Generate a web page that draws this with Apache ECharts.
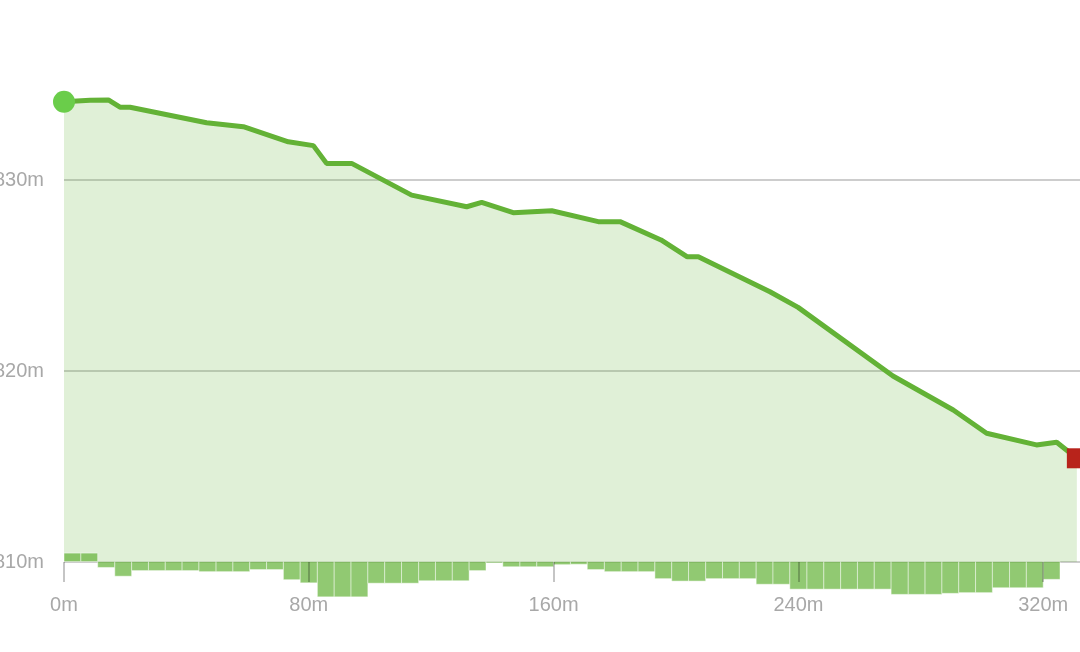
<!DOCTYPE html>
<html>
<head>
<meta charset="utf-8">
<script src="https://cdn.jsdelivr.net/npm/echarts@6/dist/echarts.min.js"></script>
<style>
html,body{margin:0;padding:0;background:#fff;}
#chart{width:1080px;height:652px;}
</style>
</head>
<body>
<div id="chart"></div>
<script>
// Elevation profile vertices
var distances = [0, 8.5, 14.5, 18.3, 21.6, 46.6, 58.6, 73.3, 81.5, 85.8, 94.0, 113.6, 131.6, 136.5, 146.8, 159.4, 174.6, 181.7, 195.1, 203.7, 207.3, 230.7, 239.9, 270.9, 290.6, 301.5, 317.8, 324.4, 331.0];
var elevations = [834.10, 834.18, 834.19, 833.81, 833.81, 833.00, 832.79, 832.00, 831.80, 830.87, 830.87, 829.21, 828.60, 828.83, 828.29, 828.39, 827.82, 827.82, 826.86, 825.98, 825.98, 824.15, 823.33, 819.74, 817.96, 816.74, 816.13, 816.27, 815.43];

// Grade segments (boundaries in m, grade per segment)
var gradeBounds = [0, 5.5, 11.0, 16.6, 22.1, 27.6, 33.1, 38.6, 44.1, 49.7, 55.2, 60.7, 66.2, 71.7, 77.2, 82.8, 88.3, 93.8, 99.3, 104.8, 110.3, 115.9, 121.4, 126.9, 132.4, 137.9, 143.4, 149.0, 154.5, 160.0, 165.5, 171.0, 176.6, 182.1, 187.6, 193.1, 198.6, 204.1, 209.7, 215.2, 220.7, 226.2, 231.7, 237.2, 242.8, 248.3, 253.8, 259.3, 264.8, 270.3, 275.9, 281.4, 286.9, 292.4, 297.9, 303.4, 309.0, 314.5, 320.0, 325.5];
var grades = [2.4, 2.4, -1.7, -4.2, -2.6, -2.6, -2.6, -2.6, -2.9, -2.9, -2.9, -2.3, -2.3, -5.2, -6.1, -10.1, -10.1, -10.1, -6.2, -6.2, -6.2, -5.5, -5.5, -5.5, -2.6, -0.4, -1.5, -1.5, -1.5, -0.9, -0.8, -2.3, -2.9, -2.9, -2.9, -4.9, -5.6, -5.6, -4.9, -4.9, -4.9, -6.5, -6.5, -7.9, -7.9, -7.9, -7.9, -7.9, -7.9, -9.4, -9.4, -9.4, -9.1, -8.9, -8.9, -7.5, -7.5, -7.5, -5.1];

var xTicks = [0, 80, 160, 240, 320];
var yTicks = [810, 820, 830];

var lineColor = '#63b236';
var labelStyle = {color: '#a8a8a8', fontSize: 20, fontFamily: 'Liberation Sans, Arial, Helvetica, sans-serif'};

var profileData = distances.map(function (d, i) {
  var item = {value: [d, elevations[i]], symbol: 'none'};
  if (i === 0) {
    item.symbol = 'circle'; item.symbolSize = 22;
    item.itemStyle = {color: '#6acd4a'};
  } else if (i === distances.length - 1) {
    item.symbol = 'rect'; item.symbolSize = 20;
    item.itemStyle = {color: '#b8231b'};
  }
  return item;
});

var gradeData = grades.map(function (g, i) {
  return [gradeBounds[i], gradeBounds[i + 1], g];
});

var chart = echarts.init(document.getElementById('chart'), null, {renderer: 'canvas'});
chart.setOption({
  animation: false,
  grid: [
    {left: 64, top: -11, width: 1224, height: 573, containLabel: false, outerBoundsMode: 'none'},
    {left: 64, top: 519.5, width: 1224, height: 84, containLabel: false, outerBoundsMode: 'none'}
  ],
  xAxis: [
    {
      gridIndex: 0, type: 'value', min: 0, max: 400, interval: 80, z: 10,
      axisLine: {show: false},
      axisTick: {show: true, length: 20, lineStyle: {color: 'rgba(0,0,0,0.3)', width: 1.5}},
      splitLine: {show: false},
      axisLabel: Object.assign({margin: 33, formatter: function (v) { return v + 'm'; }}, labelStyle)
    },
    {
      gridIndex: 1, type: 'value', min: 0, max: 400, show: false
    }
  ],
  yAxis: [
    {
      gridIndex: 0, type: 'value', min: 810, max: 840, interval: 10,
      axisLine: {show: false}, axisTick: {show: false},
      splitLine: {show: true, lineStyle: {color: '#bdbdbd', width: 1.5}},
      axisLabel: Object.assign({margin: 20, formatter: function (v) { return v + 'm'; }}, labelStyle)
    },
    {
      gridIndex: 1, type: 'value', min: -12, max: 12, show: false
    }
  ],
  series: [
    {
      type: 'line', xAxisIndex: 0, yAxisIndex: 0, z: 2,
      data: profileData,
      showSymbol: true,
      lineStyle: {color: lineColor, width: 5},
      itemStyle: {color: lineColor},
      areaStyle: {color: lineColor, opacity: 0.2},
      emphasis: {disabled: true}
    },
    {
      type: 'custom', xAxisIndex: 1, yAxisIndex: 1, z: 3,
      data: gradeData,
      renderItem: function (params, api) {
        var a = api.coord([api.value(0), api.value(2)]);
        var b = api.coord([api.value(1), 0]);
        return {
          type: 'rect',
          shape: {x: a[0], y: Math.min(a[1], b[1]), width: b[0] - a[0], height: Math.abs(b[1] - a[1])},
          style: {fill: 'rgba(99,178,54,0.7)', stroke: 'rgba(255,255,255,0.45)', lineWidth: 1}
        };
      }
    }
  ]
});
</script>
</body>
</html>
